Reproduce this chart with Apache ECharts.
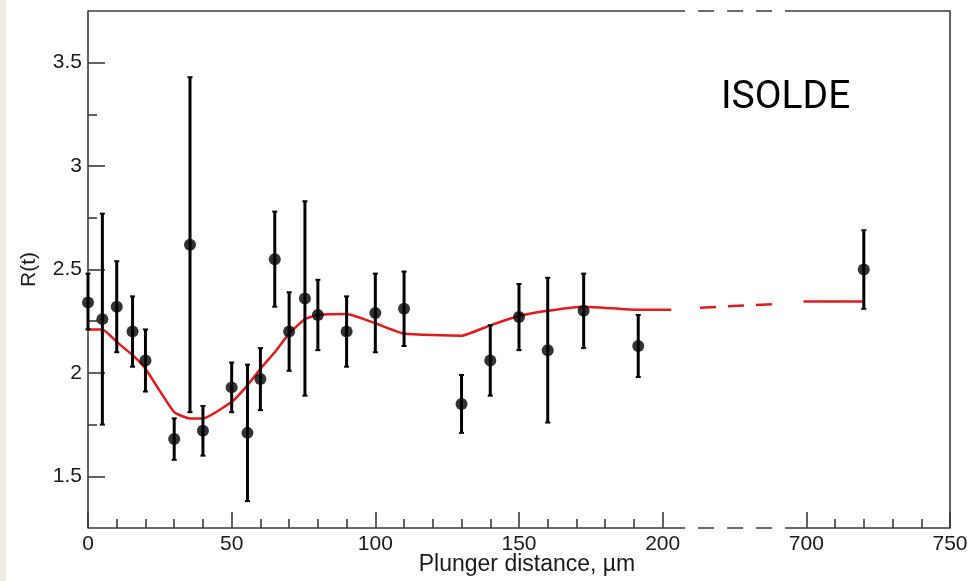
<!DOCTYPE html>
<html><head><meta charset="utf-8">
<script src="https://cdn.jsdelivr.net/npm/echarts@6/dist/echarts.min.js"></script>
<style>html,body{margin:0;padding:0;background:#fff;}#c{width:976px;height:581px;}#strip{position:absolute;left:0;top:0;width:6px;height:581px;background:#eeebe4;}</style>
</head><body><div id="c"></div><div id="strip"></div>
<script>
// ---- data (x in µm) ----
const xDist  = [0, 5, 10, 15.5, 20, 30, 35.5, 40, 50, 55.5, 60, 65, 70, 75.5, 80, 90, 100, 110, 130, 140, 150, 160, 172.5, 191.5, 720];
const rVal   = [2.34, 2.26, 2.32, 2.20, 2.06, 1.68, 2.62, 1.72, 1.93, 1.71, 1.97, 2.55, 2.20, 2.36, 2.28, 2.20, 2.29, 2.31, 1.85, 2.06, 2.27, 2.11, 2.30, 2.13, 2.50];
const rLow   = [2.21, 1.75, 2.10, 2.03, 1.91, 1.58, 1.81, 1.60, 1.81, 1.38, 1.82, 2.32, 2.01, 1.89, 2.11, 2.03, 2.10, 2.13, 1.71, 1.89, 2.11, 1.76, 2.12, 1.98, 2.31];
const rHigh  = [2.48, 2.77, 2.54, 2.37, 2.21, 1.78, 3.43, 1.84, 2.05, 2.04, 2.12, 2.78, 2.39, 2.83, 2.45, 2.37, 2.48, 2.49, 1.99, 2.23, 2.43, 2.46, 2.48, 2.28, 2.69];
// fit curve
const fitX   = [0, 5, 10, 16, 20, 30, 35.5, 40, 50, 55.5, 60, 65, 70, 75.5, 80, 90, 100, 110, 130, 140, 150, 160, 172.5, 191.5, 203];
const fitY   = [2.21, 2.21, 2.15, 2.08, 2.02, 1.81, 1.78, 1.78, 1.86, 1.94, 2.02, 2.10, 2.19, 2.26, 2.28, 2.285, 2.24, 2.19, 2.18, 2.23, 2.275, 2.30, 2.32, 2.305, 2.305];
const fitBreakX = [213, 239];          // display units inside the axis break
const fitBreakY = [2.315, 2.333];
const fitRightX = [699, 720];
const fitRightY = [2.345, 2.345];
// axes
const xMajorTicks = [0, 50, 100, 150, 200, 700, 750];
const xMinorTicks = [10,20,30,40,60,70,80,90,110,120,130,140,160,170,180,190,710,720,730,740];
const yMajorTicks = [1.5, 2, 2.5, 3, 3.5];
const yMinorTicks = [1.75, 2.25, 2.75, 3.25];
const Y_MIN = 1.25, Y_MAX = 3.75;
const BREAK_SHIFT = 450;               // 700 µm drawn at 250
const BREAK_FROM = 207.8, BREAK_TO = 242.6; // display units of the broken frame

const disp = x => (x >= 650 ? x - BREAK_SHIFT : x);
const real = d => (d >= 245 ? d + BREAK_SHIFT : d);

const AX = '#3a3a3a';
const lbl = {fontFamily: 'Liberation Sans, Arial, sans-serif', fontSize: 21, color: '#1a1a1a'};

const frameSeries = (pts, dashed) => ({
  type: 'line', data: pts, symbol: 'none', silent: true, clip: false, animation: false,
  lineStyle: {color: AX, width: 1.6, type: dashed ? [16, 13] : 'solid', dashOffset: dashed ? 16 : 0}, z: 1
});

const chart = echarts.init(document.getElementById('c'));
chart.setOption({
  animation: false,
  backgroundColor: '#fff',
  title: {text: 'ISOLDE', left: 716, top: 74,
    textStyle: {fontFamily: 'Roboto', fontSize: 39, fontWeight: 'normal', color: '#000'}},
  grid: {left: 88, right: 26, top: 11, bottom: 53, containLabel: false, outerBoundsMode: 'none'},
  xAxis: [
    {type: 'value', min: 0, max: 300, position: 'bottom',
     name: 'Plunger distance, µm', nameLocation: 'middle', nameGap: 25, nameMoveOverlap: false,
     nameTextStyle: Object.assign({}, lbl, {fontSize: 23, padding: [0, 0, 0, 16]}),
     axisLine: {show: false}, splitLine: {show: false},
     axisTick: {inside: true, length: 16, lineStyle: {color: AX, width: 1.6}, customValues: xMajorTicks.map(disp)},
     axisLabel: Object.assign({}, lbl, {margin: 6, customValues: xMajorTicks.map(disp), formatter: v => String(Math.round(real(v)))})},
    {type: 'value', min: 0, max: 300, position: 'bottom',
     axisLine: {show: false}, splitLine: {show: false}, axisLabel: {show: false},
     axisTick: {inside: true, length: 9, lineStyle: {color: AX, width: 1.6}, customValues: xMinorTicks.map(disp)}}
  ],
  yAxis: [
    {type: 'value', min: Y_MIN, max: Y_MAX, position: 'left',
     name: 'R(t)', nameLocation: 'middle', nameGap: 48, nameMoveOverlap: false,
     nameTextStyle: Object.assign({}, lbl, {fontSize: 21}),
     axisLine: {show: true, lineStyle: {color: AX, width: 1.6}}, splitLine: {show: false},
     axisTick: {inside: true, length: 17, lineStyle: {color: AX, width: 1.6}, customValues: yMajorTicks},
     axisLabel: Object.assign({}, lbl, {margin: 6, customValues: yMajorTicks})},
    {type: 'value', min: Y_MIN, max: Y_MAX, position: 'left',
     axisLine: {show: false}, splitLine: {show: false}, axisLabel: {show: false},
     axisTick: {inside: true, length: 9, lineStyle: {color: AX, width: 1.6}, customValues: yMinorTicks}},
    {type: 'value', min: Y_MIN, max: Y_MAX, position: 'right',
     axisLine: {show: true, lineStyle: {color: AX, width: 1.6}}, splitLine: {show: false},
     axisTick: {show: false}, axisLabel: {show: false}}
  ],
  series: [
    frameSeries([[0, Y_MIN], [BREAK_FROM, Y_MIN]]),
    frameSeries([[BREAK_TO, Y_MIN], [300, Y_MIN]]),
    frameSeries([[BREAK_FROM, Y_MIN], [BREAK_TO, Y_MIN]], true),
    frameSeries([[0, Y_MAX], [BREAK_FROM, Y_MAX]]),
    frameSeries([[BREAK_TO, Y_MAX], [300, Y_MAX]]),
    frameSeries([[BREAK_FROM, Y_MAX], [BREAK_TO, Y_MAX]], true),
    {type: 'line', name: 'fit', data: fitX.map((x, i) => [disp(x), fitY[i]]), symbol: 'none', clip: false,
     smooth: 0.15, lineStyle: {color: '#e3191c', width: 2.5}, z: 3},
    {type: 'line', name: 'fit-break', data: fitBreakX.map((x, i) => [x, fitBreakY[i]]), symbol: 'none', clip: false,
     lineStyle: {color: '#e3191c', width: 2.5, type: [16, 12]}, z: 3},
    {type: 'line', name: 'fit-right', data: fitRightX.map((x, i) => [disp(x), fitRightY[i]]), symbol: 'none', clip: false,
     lineStyle: {color: '#e3191c', width: 2.5}, z: 3},
    {type: 'custom', name: 'err', clip: false, z: 4,
     data: xDist.map((x, i) => [disp(x), rLow[i], rHigh[i]]),
     encode: {x: 0, y: [1, 2]},
     renderItem: (params, api) => {
       const p1 = api.coord([api.value(0), api.value(1)]);
       const p2 = api.coord([api.value(0), api.value(2)]);
       const c = 2.5;
       return {type: 'group', children: [
         {type: 'line', shape: {x1: p1[0], y1: p1[1], x2: p2[0], y2: p2[1]}, style: {stroke: '#000', lineWidth: 3}},
         {type: 'line', shape: {x1: p1[0]-c, y1: p1[1], x2: p1[0]+c, y2: p1[1]}, style: {stroke: '#000', lineWidth: 2}},
         {type: 'line', shape: {x1: p2[0]-c, y1: p2[1], x2: p2[0]+c, y2: p2[1]}, style: {stroke: '#000', lineWidth: 2}}
       ]};
     }},
    {type: 'scatter', name: 'R', data: xDist.map((x, i) => [disp(x), rVal[i]]), symbol: 'circle', symbolSize: 12,
     clip: false, itemStyle: {color: '#000'}, z: 5}
  ]
});
</script></body></html>
